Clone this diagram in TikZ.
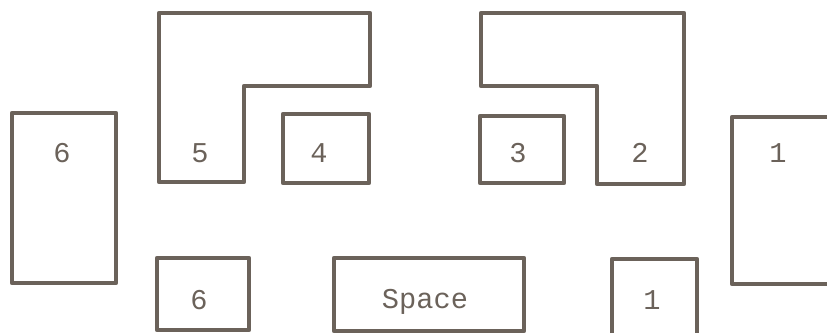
\documentclass[tikz,border=0pt]{standalone}
\usepackage{fontspec}
\newfontfamily\boxfont{Liberation Mono}
\usepackage{xcolor}
\definecolor{ink}{RGB}{107,98,90}
\tikzset{wall/.style={draw=ink,line width=3.2pt,line join=round},
  lbl/.style={font=\boxfont\fontsize{21.5}{24}\selectfont,text=ink,inner sep=0pt}}

\begin{document}
\begin{tikzpicture}[x=0.75pt,y=-0.75pt]
\useasboundingbox (0,0) rectangle (827,333);
\draw[wall] (12,113) rectangle (116,283);
\draw[wall] (159,13) -- (370,13) -- (370,86) -- (244,86) -- (244,182) -- (159,182) -- cycle;
\draw[wall] (283,114) rectangle (369,183);
\draw[wall] (480,116) rectangle (564,183);
\draw[wall] (481,13) -- (684,13) -- (684,184) -- (597,184) -- (597,86) -- (481,86) -- cycle;
\draw[wall] (827,117) -- (732,117) -- (732,284) -- (827,284);
\draw[wall] (157,258) rectangle (249,330);
\draw[wall] (334,258) rectangle (524,331);
\draw[wall] (612,333) -- (612,259) -- (697,259) -- (697,333);
\node[lbl] (six) at (62,153) {6};
\node[lbl] (five) at (200,153) {5};
\node[lbl] (four) at (319,153) {4};
\node[lbl] (three) at (518,153) {3};
\node[lbl] (two) at (640,153) {2};
\node[lbl] (one) at (778,153) {1};
\node[lbl] (sixlow) at (199,300) {6};
\node[lbl] (space) at (425,302) {Space};
\node[lbl] (onelow) at (652,300) {1};
\end{tikzpicture}
\end{document}
